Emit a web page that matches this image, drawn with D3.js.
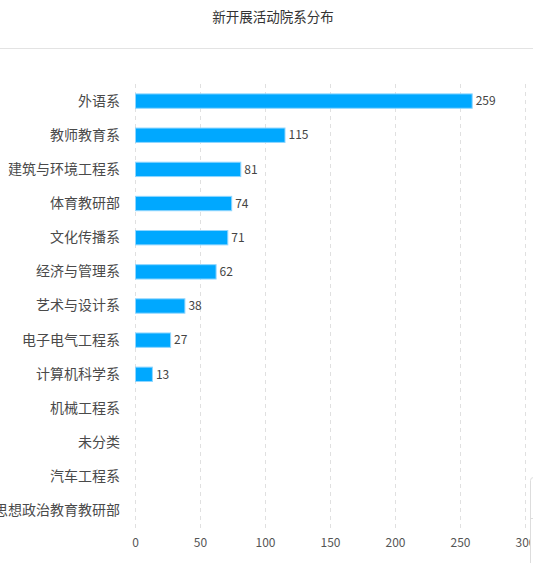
<!DOCTYPE html>
<html><head><meta charset="utf-8">
<script src="https://cdn.jsdelivr.net/npm/d3@7/dist/d3.min.js"></script>
<style>
html,body{margin:0;padding:0;background:#fff;overflow:hidden;}
svg{display:block;font-family:"Noto Sans CJK SC","Microsoft YaHei",sans-serif;}
</style></head>
<body>
<svg id="c" width="533" height="563"></svg>
<script>
const title = "新开展活动院系分布";
const categories = ["外语系","教师教育系","建筑与环境工程系","体育教研部","文化传播系","经济与管理系","艺术与设计系","电子电气工程系","计算机科学系","机械工程系","未分类","汽车工程系","思想政治教育教研部"];
const values = [259,115,81,74,71,62,38,27,13,null,null,null,null];
const xTicks = [0,50,100,150,200,250,300];

const svg = d3.select("#c");
svg.append("text").attr("x",273).attr("y",22).attr("text-anchor","middle")
  .attr("font-size",13.5).attr("fill","#333").text(title);
svg.append("line").attr("x1",0).attr("x2",533).attr("y1",48.5).attr("y2",48.5)
  .attr("stroke","#e3e3e3").attr("stroke-width",1);

const x = d3.scaleLinear().domain([0,300]).range([135,525]);
const y = d3.scaleBand().domain(categories).range([84,528]).paddingInner(0.55).paddingOuter(0.275);

// grid
svg.append("g").selectAll("line").data(xTicks).join("line")
  .attr("x1",d=>Math.round(x(d))+0.5).attr("x2",d=>Math.round(x(d))+0.5)
  .attr("y1",84).attr("y2",528)
  .attr("stroke","#e0e0e0").attr("stroke-dasharray","4,4");

// x axis labels
const ax = svg.append("g").attr("transform","translate(0,528)")
  .call(d3.axisBottom(x).tickValues(xTicks).tickSize(0).tickPadding(10));
ax.select(".domain").remove();
ax.selectAll("text").attr("font-size",12).attr("fill","#555").attr("font-family","'Noto Sans CJK SC',sans-serif");

// y axis labels
const ay = svg.append("g").attr("transform","translate(135,0)")
  .call(d3.axisLeft(y).tickSize(0).tickPadding(15));
ay.select(".domain").remove();
ay.selectAll("text").attr("font-size",14).attr("fill","#4a4a4a").attr("font-family","'Noto Sans CJK SC',sans-serif");

const data = categories.map((c,i)=>({c, v: values[i]})).filter(d=>d.v!=null);
svg.append("g").selectAll("rect").data(data).join("rect")
  .attr("x",x(0)+0.5).attr("y",d=>y(d.c)+0.5)
  .attr("width",d=>x(d.v)-x(0)).attr("height",y.bandwidth()-1)
  .attr("fill","#00a8ff").attr("stroke","#8fd6ff").attr("stroke-width",1);
svg.append("g").selectAll("text").data(data).join("text")
  .attr("x",d=>x(d.v)+4).attr("y",d=>y(d.c)+y.bandwidth()/2)
  .attr("dy","0.35em").attr("font-size",12).attr("fill","#444").text(d=>d.v);

// right edge element
svg.append("rect").attr("x",530.5).attr("y",477.5).attr("width",8).attr("height",90).attr("rx",3)
  .attr("fill","#fff").attr("stroke","#ddd");
svg.append("line").attr("x1",531).attr("x2",533).attr("y1",518.5).attr("y2",518.5).attr("stroke","#ddd");
</script>
</body></html>
